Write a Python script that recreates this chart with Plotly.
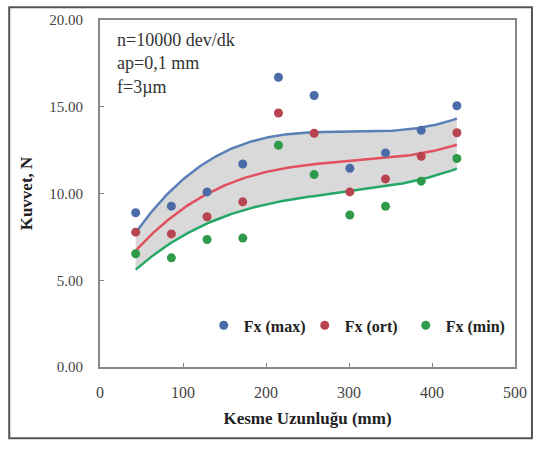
import numpy as np
import plotly.graph_objects as go

# Data
length_mm = [43, 86, 129, 172, 215, 258, 301, 344, 387, 430]
fx_max = [8.89, 9.27, 10.09, 11.70, 16.70, 15.65, 11.45, 12.34, 13.64, 15.06]
fx_ort = [7.77, 7.67, 8.66, 9.52, 14.64, 13.47, 10.09, 10.84, 12.14, 13.50]
fx_min = [6.53, 6.29, 7.35, 7.43, 12.78, 11.09, 8.76, 9.26, 10.71, 12.02]

series_names = ["Fx (max)", "Fx (ort)", "Fx (min)"]
x_ticks = [0, 100, 200, 300, 400, 500]
y_ticks = [0, 5, 10, 15, 20]
y_tick_labels = ["0.00", "5.00", "10.00", "15.00", "20.00"]
info_lines = ["n=10000 dev/dk", "ap=0,1 mm", "f=3µm"]

line_colors = ["#5a7fb6", "#e0505e", "#25a866"]
marker_colors = ["#4a6aa8", "#b8444f", "#2f9a4a"]

FONT = "Liberation Serif"

# Third-order polynomial trendlines (as in the original spreadsheet)
xs = np.linspace(min(length_mm), max(length_mm), 200)
fits = [np.polyval(np.polyfit(length_mm, s, 3), xs) for s in (fx_max, fx_ort, fx_min)]

fig = go.Figure()

# grey band between max and min trendlines
fig.add_trace(go.Scatter(x=xs, y=fits[2], mode="lines", line=dict(width=0),
                         showlegend=False, hoverinfo="skip"))
fig.add_trace(go.Scatter(x=xs, y=fits[0], mode="lines", line=dict(width=0),
                         fill="tonexty", fillcolor="rgba(170,170,170,0.45)",
                         showlegend=False, hoverinfo="skip"))

for fit, c in zip(fits, line_colors):
    fig.add_trace(go.Scatter(x=xs, y=fit, mode="lines", line=dict(color=c, width=2.5),
                             showlegend=False, hoverinfo="skip"))

for name, vals, mc in zip(series_names, (fx_max, fx_ort, fx_min), marker_colors):
    fig.add_trace(go.Scatter(x=length_mm, y=vals, mode="markers", name=name,
                             marker=dict(color=mc, size=9)))

fig.add_annotation(xref="paper", yref="paper", x=0.035, y=0.977, xanchor="left", yanchor="top",
                   text="<br>".join(info_lines), showarrow=False, align="left",
                   font=dict(family=FONT, size=18, color="#333"))

# outer chart frame
fig.add_shape(type="rect", xref="paper", yref="paper",
              x0=(9 - 100) / 416, x1=(533 - 100) / 416,
              y0=(367 - 439) / 351, y1=(367 - 3) / 351,
              line=dict(color="#555", width=2), layer="below")

fig.update_layout(
    width=539, height=450,
    margin=dict(l=100, r=23, t=16, b=83),
    paper_bgcolor="white", plot_bgcolor="white",
    font=dict(family=FONT, size=15, color="#333"),
    legend=dict(orientation="h", x=0.25, y=0.12, xanchor="left", yanchor="middle",
                font=dict(family=FONT, size=16, color="#222", weight="bold"),
                itemwidth=30, bgcolor="rgba(0,0,0,0)", traceorder="normal",
                entrywidth=56),
    xaxis=dict(range=[0, 500], tickvals=x_ticks, ticks="inside", ticklen=4,
               tickcolor="#888", showline=True, linecolor="#888", linewidth=2,
               mirror=True, showgrid=False, zeroline=False, ticklabelstandoff=10,
               title=dict(text="<b>Kesme Uzunluğu (mm)</b>", font=dict(size=17, color="#222"),
                          standoff=12),
               tickfont=dict(size=16, color="#444")),
    yaxis=dict(range=[0, 20], tickvals=y_ticks, ticktext=y_tick_labels, ticks="inside",
               ticklen=4, tickcolor="#888", showline=True, linecolor="#888", linewidth=2,
               mirror=True, showgrid=False, zeroline=False, ticklabelstandoff=12,
               title=dict(text="<b>Kuvvet, N</b>", font=dict(size=17, color="#222"), standoff=12),
               tickfont=dict(size=15, color="#444")),
)

fig.write_html("out.html")
